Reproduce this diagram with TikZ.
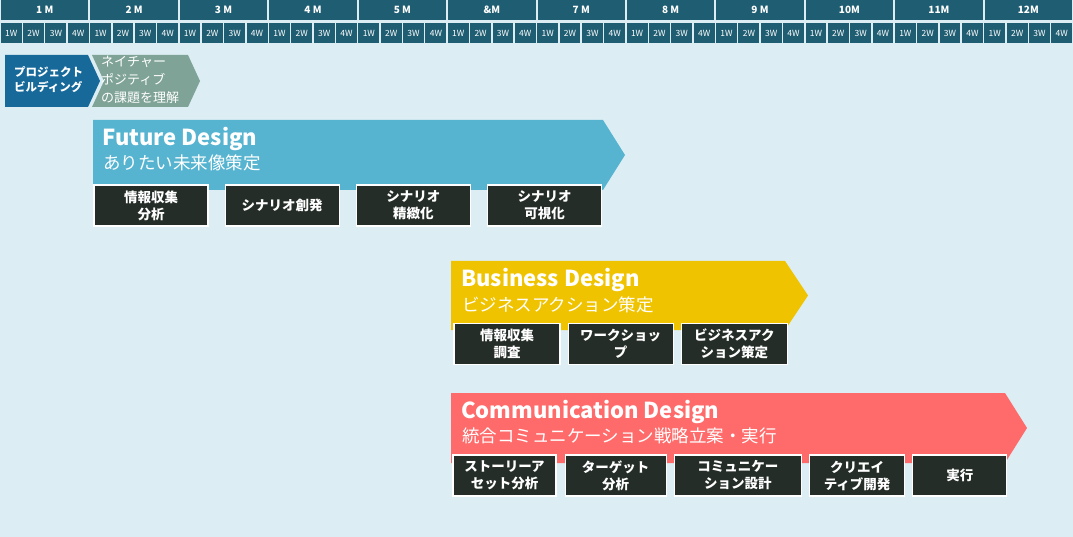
\documentclass[tikz,border=0pt]{standalone}
\usepackage{fontspec}
\setmainfont{Noto Sans CJK JP}
\usepackage{xcolor}
\usepackage{tikz}
\usetikzlibrary{positioning}
\definecolor{bgblue}{HTML}{DCEEF4}
\definecolor{headteal}{HTML}{1F5D72}
\definecolor{pbblue}{HTML}{17699A}
\definecolor{npgrey}{HTML}{7FA396}
\definecolor{futureblue}{HTML}{56B4D0}
\definecolor{bizyellow}{HTML}{F0C300}
\definecolor{commred}{HTML}{FF6B6B}
\definecolor{taskdark}{HTML}{242D27}
\tikzset{
  monthlabel/.style={text=white, inner sep=0pt,
    font=\bfseries\fontsize{10}{12}\selectfont},
  weeklabel/.style={text=white, inner sep=0pt,
    font=\fontsize{8.5}{10}\selectfont},
  tasklabel/.style={
    rectangle,
    draw=white, line width=1.2pt,
    fill=taskdark,
    text=white,
    minimum height=41pt,
    inner sep=0pt,
    align=center,
    font=\bfseries\fontsize{13.5}{17}\selectfont},
  phasetitle/.style={anchor=base west, text=white, inner sep=0pt,
    font=\bfseries\fontsize{22}{26}\selectfont},
  phasesub/.style={anchor=base west, text=white, inner sep=0pt,
    font=\fontsize{17.5}{20}\selectfont},
  startlabel/.style={anchor=west, text=white, inner sep=0pt, align=left}
}

\begin{document}
\begin{tikzpicture}[x=1pt,y=-1pt]
    \useasboundingbox (0,0) rectangle (1073,537);
    \fill[bgblue] (0,0) rectangle (1073,537);

    % months and weeks
    \pgfmathsetmacro\monthw{1073/12}
    \foreach \m/\lab in {1/1 M,2/2 M,3/3 M,4/4 M,5/5 M,6/\&M,7/7 M,8/8 M,9/9 M,10/10M,11/11M,12/12M}{
      \fill[headteal] ({(\m-1)*\monthw+1},0) rectangle ({\m*\monthw-1},20);
      \node[monthlabel] (m\m) at ({(\m-0.5)*\monthw},10) {\lab};
      \foreach \w in {1,...,4}{
        \fill[headteal] ({(\m-1)*\monthw+(\w-1)*\monthw/4+0.75},23)
            rectangle ({(\m-1)*\monthw+\w*\monthw/4-0.75},43);
        \node[weeklabel] (w\m-\w) at ({(\m-1)*\monthw+(\w-0.5)*\monthw/4},33) {\w W};
      }
    }

    % kick-off chevrons
    \fill[pbblue] (5,55) -- (88,55) -- (100,81) -- (88,107) -- (5,107) -- cycle;
    \fill[npgrey] (92,55) -- (188,55) -- (200,81) -- (188,107) -- (92,107) -- (104,81) -- cycle;
    \node[startlabel, font=\bfseries\fontsize{11.5}{15}\selectfont] (pb) at (14,80) {プロジェクト\\ビルディング};
    \node[startlabel, font=\fontsize{13}{18}\selectfont] (np) at (101,80) {ネイチャー\\ポジティブ\\の課題を理解};

    % Future Design
    \fill[futureblue] (93,120) -- (603,120) -- (625,155) -- (603,190) -- (93,190) -- cycle;
    \node[phasetitle] (fdtitle) at (102,146) {Future Design};
    \node[phasesub] (fdsub) at (103,170) {ありたい未来像策定};
    \node[tasklabel, minimum width=114pt] (fd1) at (151,205.5) {情報収集\\分析};
    \node[tasklabel, minimum width=114pt, right=16pt of fd1] (fd2) {シナリオ創発};
    \node[tasklabel, minimum width=114pt, right=16pt of fd2] (fd3) {シナリオ\\精緻化};
    \node[tasklabel, minimum width=114pt, right=16pt of fd3] (fd4) {シナリオ\\可視化};

    % Business Design
    \fill[bizyellow] (451,261) -- (785,261) -- (808,295.5) -- (785,330) -- (451,330) -- cycle;
    \node[phasetitle] (bdtitle) at (461,287) {Business Design};
    \node[phasesub] (bdsub) at (462,311) {ビジネスアクション策定};
    \node[tasklabel, minimum width=106pt] (bd1) at (507,344) {情報収集\\調査};
    \node[tasklabel, minimum width=105pt, right=7pt of bd1] (bd2) {ワークショッ\\プ};
    \node[tasklabel, minimum width=106pt, right=7pt of bd2] (bd3) {ビジネスアク\\ション策定};

    % Communication Design
    \fill[commred] (451,393) -- (1005,393) -- (1027,428) -- (1005,463) -- (451,463) -- cycle;
    \node[phasetitle] (cdtitle) at (461,418) {Communication Design};
    \node[phasesub] (cdsub) at (462,442) {統合コミュニケーション戦略立案・実行};
    \node[tasklabel, minimum width=103pt] (cd1) at (504.5,475.5) {ストーリーア\\セット分析};
    \node[tasklabel, minimum width=101pt, right=8pt of cd1] (cd2) {ターゲット\\分析};
    \node[tasklabel, minimum width=127pt, right=7pt of cd2] (cd3) {コミュニケー\\ション設計};
    \node[tasklabel, minimum width=95pt, right=7pt of cd3] (cd4) {クリエイ\\ティブ開発};
    \node[tasklabel, minimum width=94pt, right=7pt of cd4] (cd5) {実行};
\end{tikzpicture}
\end{document}
